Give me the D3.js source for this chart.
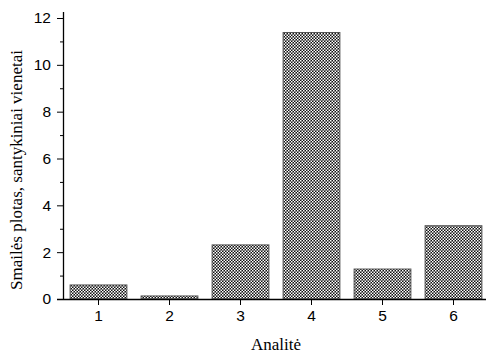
<!DOCTYPE html>
<html>
<head>
<meta charset="utf-8">
<script src="https://cdn.jsdelivr.net/npm/d3@7"></script>
<style>
  body { margin: 0; background: #fff; }
  svg { display: block; }
</style>
</head>
<body>
<div id="chart"></div>
<script>
const categories = ['1', '2', '3', '4', '5', '6'];
const values = [0.6, 0.13, 2.31, 11.38, 1.28, 3.13];
const yTicks = [0, 2, 4, 6, 8, 10, 12];
const yMinorTicks = [1, 3, 5, 7, 9, 11];

const width = 486;
const height = 355;
const left = 63;
const bottom = 299;

const svg = d3.select('#chart').append('svg')
  .attr('width', width)
  .attr('height', height);

// checker fill like the original hatch
const pat = svg.append('defs').append('pattern')
  .attr('id', 'checker')
  .attr('patternUnits', 'userSpaceOnUse')
  .attr('width', 3)
  .attr('height', 3);
pat.append('rect').attr('width', 3).attr('height', 3).attr('fill', '#111');
pat.append('rect').attr('x', 0).attr('y', 0).attr('width', 1.5).attr('height', 1.5).attr('fill', '#fff');
pat.append('rect').attr('x', 1.5).attr('y', 1.5).attr('width', 1.5).attr('height', 1.5).attr('fill', '#fff');

const x = d3.scaleBand()
  .domain(categories)
  .range([left, left + 426])
  .paddingInner(0.2)
  .paddingOuter(0.1);

const y = d3.scaleLinear()
  .domain([0, 12])
  .range([bottom, 18]);

svg.append('g')
  .selectAll('rect')
  .data(values)
  .enter()
  .append('rect')
  .attr('x', (d, i) => x(categories[i]))
  .attr('y', d => y(d))
  .attr('width', x.bandwidth())
  .attr('height', d => bottom - y(d))
  .attr('fill', 'url(#checker)')
  .attr('stroke', '#555')
  .attr('stroke-width', 1);

// y axis
const yAxis = svg.append('g')
  .attr('transform', `translate(${left},0)`)
  .call(d3.axisLeft(y).tickValues(yTicks).tickSize(6).tickPadding(6).tickFormat(d3.format('d')));
yAxis.select('.domain').remove();
yAxis.selectAll('text')
  .attr('font-family', 'Liberation Sans, Arial, sans-serif')
  .attr('font-size', 15.5)
  .attr('fill', '#000');

svg.append('g')
  .selectAll('line')
  .data(yMinorTicks)
  .enter()
  .append('line')
  .attr('x1', left - 3)
  .attr('x2', left)
  .attr('y1', d => y(d) + 0.5)
  .attr('y2', d => y(d) + 0.5)
  .attr('stroke', '#000');

svg.append('line')
  .attr('x1', left + 0.5).attr('x2', left + 0.5)
  .attr('y1', 12).attr('y2', bottom)
  .attr('stroke', '#000')
  .attr('stroke-width', 1.3);

// x axis
const xAxis = svg.append('g')
  .attr('transform', `translate(0,${bottom})`)
  .call(d3.axisBottom(x).tickSize(6).tickPadding(5));
xAxis.select('.domain').remove();
xAxis.selectAll('text')
  .attr('font-family', 'Liberation Sans, Arial, sans-serif')
  .attr('font-size', 15.5)
  .attr('fill', '#000');

svg.append('line')
  .attr('x1', left - 6).attr('x2', width)
  .attr('y1', bottom + 0.5).attr('y2', bottom + 0.5)
  .attr('stroke', '#000')
  .attr('stroke-width', 1.3);

svg.append('text')
  .attr('x', 276)
  .attr('y', 350)
  .attr('text-anchor', 'middle')
  .attr('font-family', 'Liberation Serif, Times New Roman, serif')
  .attr('font-size', 17)
  .text('Analitė');

svg.append('text')
  .attr('transform', `translate(22,${170}) rotate(-90)`)
  .attr('text-anchor', 'middle')
  .attr('font-family', 'Liberation Serif, Times New Roman, serif')
  .attr('font-size', 17)
  .text('Smailės plotas, santykiniai vienetai');
</script>
</body>
</html>
